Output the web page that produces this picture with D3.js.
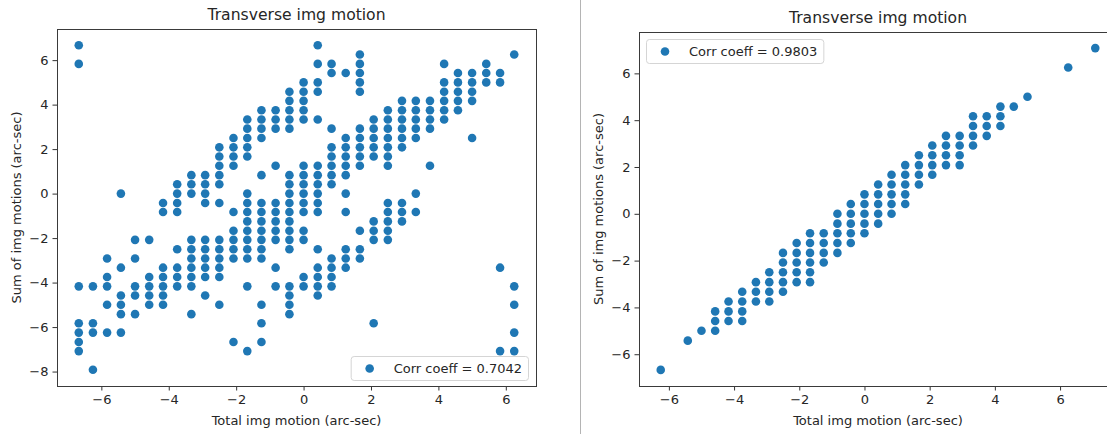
<!DOCTYPE html>
<html>
<head>
<meta charset="utf-8">
<script src="https://cdn.jsdelivr.net/npm/d3@7"></script>
<style>
  body { margin: 0; background: #fff; }
  svg { display: block; font-family: "DejaVu Sans", sans-serif; }
</style>
</head>
<body>
<svg id="chart" width="1107" height="434"></svg>
<script>
// LEFT PANEL DATA: one x value per column, list of y values in that column
const leftColX = [-6.67, -6.25, -5.83, -5.42, -5.00, -4.58, -4.17, -3.75, -3.33, -2.92, -2.50,
  -2.08, -1.67, -1.25, -0.83, -0.42, 0, 0.42, 0.83, 1.25, 1.67, 2.08, 2.50, 2.92, 3.33, 3.75,
  4.17, 4.58, 5.00, 5.42, 5.83, 6.25];
const leftColY = [
  [6.67, 5.83, -4.17, -5.83, -6.25, -6.67, -7.08],
  [-4.17, -5.83, -6.25, -7.92],
  [-2.92, -3.75, -4.17, -5.00, -6.25],
  [0, -3.33, -4.58, -5.00, -5.42, -6.25],
  [-2.08, -2.92, -4.17, -4.58, -5.42],
  [-2.08, -3.75, -4.17, -4.58, -5.00],
  [-0.42, -0.83, -3.33, -3.75, -4.17, -4.58, -5.00],
  [0.42, 0, -0.42, -0.83, -2.50, -3.33, -3.75, -4.17],
  [0.83, 0.42, 0, -2.08, -2.50, -2.92, -3.33, -3.75, -4.17, -5.42],
  [0.83, 0.42, 0, -0.42, -2.08, -2.50, -2.92, -3.33, -3.75, -4.58],
  [2.08, 1.67, 1.25, 0.83, 0.42, -0.42, -2.08, -2.50, -2.92, -3.33, -3.75, -5.00],
  [2.50, 2.08, 1.67, 1.25, -0.83, -1.67, -2.08, -2.50, -2.92, -6.67],
  [3.33, 2.92, 2.50, 2.08, 1.67, 0, -0.42, -0.83, -1.25, -1.67, -2.08, -2.50, -2.92, -4.17, -7.08],
  [3.75, 3.33, 2.92, 2.50, 0.83, -0.42, -0.83, -1.25, -1.67, -2.08, -2.50, -2.92, -5.00, -5.83, -6.67],
  [3.75, 3.33, 2.92, 1.25, -0.42, -0.83, -1.25, -1.67, -2.08, -3.33, -4.17],
  [4.58, 4.17, 3.75, 3.33, 2.92, 0.83, 0.42, 0, -0.42, -0.83, -1.25, -1.67, -2.08, -2.50, -4.17, -4.58, -5.00, -5.42],
  [5.00, 4.58, 4.17, 3.75, 3.33, 1.25, 0.83, 0.42, 0, -0.42, -0.83, -1.67, -2.08, -3.75, -4.17],
  [6.67, 5.83, 5.00, 4.58, 3.33, 1.25, 0.83, 0.42, 0, -0.42, -0.83, -2.50, -3.33, -3.75, -4.17, -4.58],
  [5.83, 5.42, 2.92, 2.08, 1.67, 1.25, 0.83, 0.42, -2.92, -3.33, -3.75, -4.17],
  [5.42, 2.50, 2.08, 1.67, 1.25, 0.83, 0, -0.83, -2.50, -2.92, -3.33],
  [6.25, 5.83, 5.42, 5.00, 4.58, 2.92, 2.50, 2.08, 1.67, 1.25, -1.67, -2.50, -2.92],
  [3.33, 2.92, 2.50, 2.08, 1.67, -1.25, -1.67, -2.08, -5.83],
  [3.75, 3.33, 2.92, 2.50, 2.08, 1.67, 1.25, -0.42, -0.83, -1.25, -1.67, -2.08],
  [4.17, 3.75, 3.33, 2.92, 2.50, 2.08, -0.42, -0.83, -1.25],
  [4.17, 3.75, 3.33, 2.92, 2.50, 0, -0.83],
  [4.17, 3.75, 3.33, 2.92, 1.25],
  [5.83, 5.00, 4.58, 4.17, 3.75, 3.33],
  [5.42, 5.00, 4.58, 4.17, 3.75],
  [5.42, 5.00, 4.58, 4.17, 2.50],
  [5.83, 5.42, 5.00],
  [5.42, 5.00, -3.33, -7.08],
  [6.25, -4.17, -5.00, -6.25, -7.08]
];

// RIGHT PANEL DATA
const rightColX = [-6.25, -5.42, -5.00, -4.58, -4.17, -3.75, -3.33, -2.92, -2.50, -2.08, -1.67,
  -1.25, -0.83, -0.42, 0, 0.42, 0.83, 1.25, 1.67, 2.08, 2.50, 2.92, 3.33, 3.75, 4.17, 4.58,
  5.00, 6.25, 7.08];
const rightColY = [
  [-6.67],
  [-5.42],
  [-5.00],
  [-4.17, -4.58, -5.00],
  [-3.75, -4.17, -4.58],
  [-3.33, -3.75, -4.17, -4.58],
  [-2.92, -3.33, -3.75],
  [-2.50, -2.92, -3.33, -3.75],
  [-1.67, -2.08, -2.50, -2.92, -3.33],
  [-1.25, -1.67, -2.08, -2.50, -2.92],
  [-0.83, -1.25, -1.67, -2.08, -2.50, -2.92],
  [-0.83, -1.25, -1.67, -2.08],
  [0, -0.42, -0.83, -1.25, -1.67],
  [0.42, 0, -0.42, -0.83, -1.25],
  [0.83, 0.42, 0, -0.42, -0.83],
  [1.25, 0.83, 0.42, 0, -0.42],
  [1.67, 1.25, 0.83, 0.42, 0],
  [2.08, 1.67, 1.25, 0.83, 0.42],
  [2.50, 2.08, 1.67, 1.25],
  [2.92, 2.50, 2.08, 1.67],
  [3.33, 2.92, 2.50, 2.08],
  [3.33, 2.92, 2.50, 2.08],
  [4.17, 3.75, 3.33, 2.92],
  [4.17, 3.75, 3.33],
  [4.58, 4.17, 3.75],
  [4.58],
  [5.00],
  [6.25],
  [7.08]
];

// TICKS AND TEXT
const xTicks = [-6, -4, -2, 0, 2, 4, 6];
const leftYTicks = [-8, -6, -4, -2, 0, 2, 4, 6];
const rightYTicks = [-6, -4, -2, 0, 2, 4, 6];
const titleText = "Transverse img motion";
const xLabelText = "Total img motion (arc-sec)";
const yLabelText = "Sum of img motions (arc-sec)";
const leftLegendText = "Corr coeff = 0.7042";
const rightLegendText = "Corr coeff = 0.9803";

const svg = d3.select("#chart");
const dotColor = "#1f77b4";
const textColor = "#262626";
const dotRadius = 4.3;

const toPoints = (xs, ys) => xs.flatMap((x, i) => ys[i].map(y => ({ x, y })));

// matplotlib style 5% margins
const padded = values => {
  const [lo, hi] = d3.extent(values);
  const m = (hi - lo) * 0.05;
  return [lo - m, hi + m];
};

const minusFmt = d => (d < 0 ? "\u2212" + Math.abs(d) : String(d));

function drawPanel(cfg) {
  const points = toPoints(cfg.colX, cfg.colY);
  const box = cfg.box;

  const xScale = d3.scaleLinear()
    .domain(padded(points.map(p => p.x)))
    .range([box.left, box.right]);
  const yScale = d3.scaleLinear()
    .domain(padded(points.map(p => p.y)))
    .range([box.bottom, box.top]);

  const g = svg.append("g");

  // POINTS
  g.append("g")
    .selectAll("circle")
    .data(points)
    .join("circle")
    .attr("cx", d => xScale(d.x))
    .attr("cy", d => yScale(d.y))
    .attr("r", dotRadius)
    .attr("fill", dotColor);

  // AXES
  const xAxis = d3.axisBottom(xScale).tickValues(xTicks).tickSize(4.5).tickPadding(4).tickFormat(minusFmt);
  const yAxis = d3.axisLeft(yScale).tickValues(cfg.yTicks).tickSize(4.5).tickPadding(4).tickFormat(minusFmt);

  const gx = g.append("g").attr("transform", `translate(0,${box.bottom})`).call(xAxis);
  const gy = g.append("g").attr("transform", `translate(${box.left},0)`).call(yAxis);
  [gx, gy].forEach(a => {
    a.select(".domain").remove();
    a.selectAll("line").attr("stroke", "#333").attr("stroke-width", 1);
    a.selectAll("text").attr("fill", textColor).style("font-size", "13px").style("font-family", "DejaVu Sans");
  });

  // SPINES
  g.append("rect")
    .attr("x", box.left + 0.5)
    .attr("y", box.top + 0.5)
    .attr("width", box.right - box.left)
    .attr("height", box.bottom - box.top)
    .attr("fill", "none")
    .attr("stroke", "#3a3a3a")
    .attr("stroke-width", 1);

  // TITLE AND LABELS
  const cx = (box.left + box.right) / 2;
  g.append("text")
    .attr("x", cx)
    .attr("y", box.top - 9)
    .attr("text-anchor", "middle")
    .attr("fill", textColor)
    .style("font-size", "15.6px")
    .text(titleText);

  g.append("text")
    .attr("x", cx)
    .attr("y", 425)
    .attr("text-anchor", "middle")
    .attr("fill", textColor)
    .style("font-size", "13px")
    .text(xLabelText);

  g.append("text")
    .attr("transform", `translate(${cfg.yLabelX},${(box.top + box.bottom) / 2}) rotate(-90)`)
    .attr("text-anchor", "middle")
    .attr("fill", textColor)
    .style("font-size", "13px")
    .text(yLabelText);

  // LEGEND
  const lg = g.append("g");
  const lgBox = lg.append("rect");
  const lgText = lg.append("text")
    .attr("fill", textColor)
    .style("font-size", "13px")
    .text(cfg.legendText);
  const textLen = lgText.node().getComputedTextLength();
  const w = 43 + textLen + 6;
  const h = 24;
  const x0 = cfg.legendPos === "lower right" ? box.right - 8 - w : box.left + 7;
  const y0 = cfg.legendPos === "lower right" ? box.bottom - 6 - h : box.top + 7;
  lgBox.attr("x", x0 + 0.5).attr("y", y0 + 0.5).attr("width", w).attr("height", h)
    .attr("rx", 3)
    .attr("fill", "#fff")
    .attr("fill-opacity", 0.8)
    .attr("stroke", "#d5d5d5");
  lg.append("circle").attr("cx", x0 + 19).attr("cy", y0 + h / 2 + 0.5).attr("r", dotRadius).attr("fill", dotColor);
  lgText.attr("x", x0 + 43).attr("y", y0 + h / 2 + 5);
}

drawPanel({
  colX: leftColX, colY: leftColY, yTicks: leftYTicks,
  box: { left: 57, right: 536, top: 29, bottom: 386 },
  yLabelX: 20.5, legendText: leftLegendText, legendPos: "lower right"
});

drawPanel({
  colX: rightColX, colY: rightColY, yTicks: rightYTicks,
  box: { left: 639, right: 1117, top: 32, bottom: 386 },
  yLabelX: 602.5, legendText: rightLegendText, legendPos: "upper left"
});

// PANEL SEPARATOR
svg.append("line")
  .attr("x1", 580.5).attr("x2", 580.5)
  .attr("y1", 0).attr("y2", 434)
  .attr("stroke", "#b4b4b4");
</script>
</body>
</html>
